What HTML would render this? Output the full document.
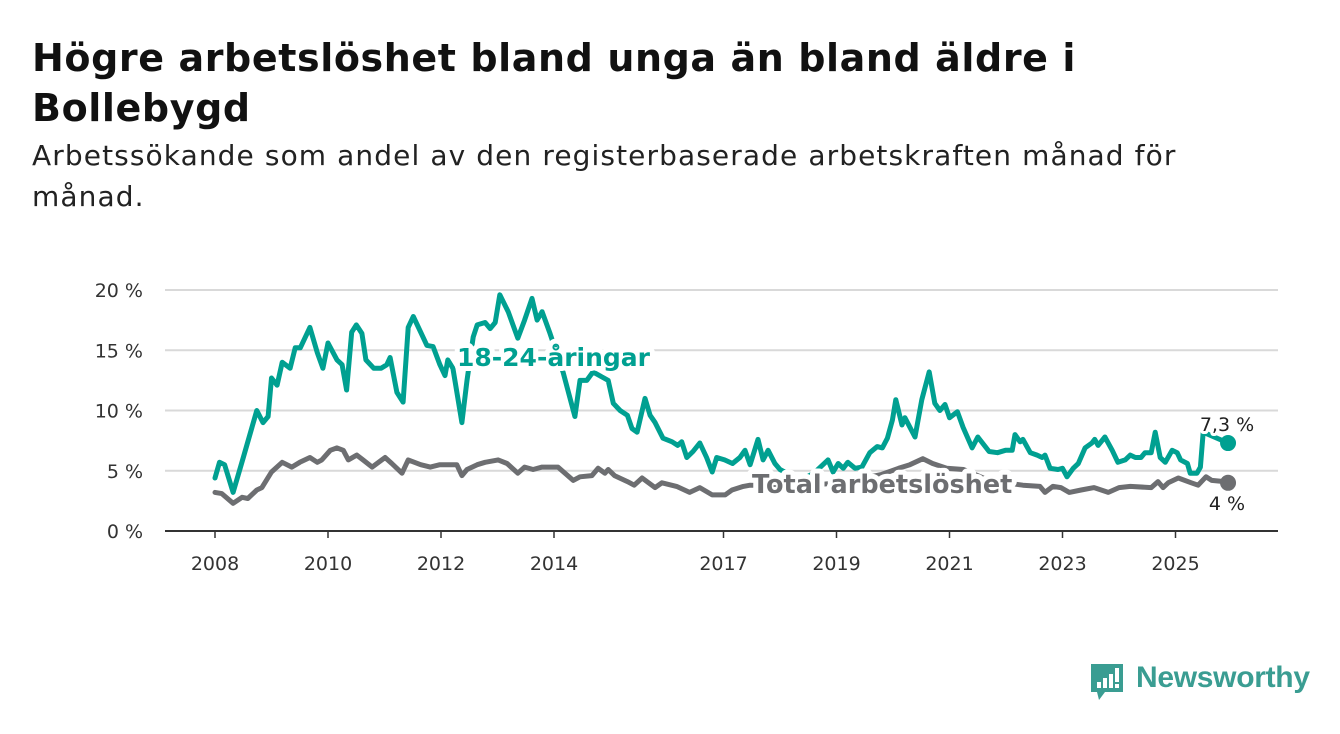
<!DOCTYPE html>
<html><head><meta charset="utf-8">
<style>
body{margin:0;width:1340px;height:734px;background:#fff;font-family:"Liberation Sans","DejaVu Sans",sans-serif;overflow:hidden;position:relative}
h1{position:absolute;left:32px;top:33px;margin:0;font-family:"DejaVu Sans",sans-serif;font-size:38px;line-height:50px;font-weight:bold;color:#111;width:1290px;white-space:nowrap;letter-spacing:0.6px}
.sub{position:absolute;left:32px;top:135px;font-family:"DejaVu Sans",sans-serif;font-size:28px;line-height:41px;color:#222;width:1290px;white-space:nowrap;letter-spacing:1.1px}
svg{position:absolute;left:0;top:0}
</style></head><body>
<h1>Högre arbetslöshet bland unga än bland äldre i<br>Bollebygd</h1>
<div class="sub">Arbetssökande som andel av den registerbaserade arbetskraften månad för<br>månad.</div>
<svg id="chart" width="1340" height="734"></svg>
<script>
const youthDates=[2008.0,2008.08,2008.17,2008.32,2008.5,2008.74,2008.85,2008.94,2009.0,2009.1,2009.19,2009.33,2009.42,2009.51,2009.68,2009.81,2009.91,2010.0,2010.16,2010.25,2010.33,2010.42,2010.5,2010.6,2010.67,2010.81,2010.94,2011.04,2011.1,2011.22,2011.33,2011.42,2011.51,2011.64,2011.75,2011.86,2011.98,2012.07,2012.12,2012.21,2012.37,2012.46,2012.57,2012.64,2012.78,2012.87,2012.96,2013.04,2013.19,2013.36,2013.48,2013.61,2013.7,2013.79,2013.93,2014.16,2014.37,2014.46,2014.58,2014.69,2014.96,2015.05,2015.17,2015.3,2015.38,2015.47,2015.61,2015.7,2015.79,2015.93,2016.09,2016.19,2016.26,2016.35,2016.46,2016.58,2016.7,2016.8,2016.88,2017.02,2017.16,2017.29,2017.38,2017.47,2017.61,2017.7,2017.79,2017.91,2018.0,2018.2,2018.4,2018.6,2018.85,2018.94,2019.03,2019.12,2019.2,2019.33,2019.45,2019.59,2019.72,2019.81,2019.9,2019.99,2020.05,2020.16,2020.21,2020.39,2020.51,2020.64,2020.74,2020.83,2020.92,2021.0,2021.14,2021.24,2021.4,2021.5,2021.7,2021.85,2021.99,2022.11,2022.16,2022.25,2022.3,2022.43,2022.55,2022.64,2022.69,2022.78,2022.92,2023.0,2023.08,2023.19,2023.28,2023.4,2023.52,2023.57,2023.63,2023.75,2023.88,2023.98,2024.11,2024.2,2024.29,2024.39,2024.46,2024.57,2024.64,2024.73,2024.82,2024.94,2025.03,2025.09,2025.21,2025.26,2025.38,2025.44,2025.49,2025.93];
const youthValues=[4.4,5.7,5.5,3.2,6.1,10.0,9.0,9.5,12.7,12.1,14.0,13.5,15.2,15.2,16.9,14.8,13.5,15.6,14.2,13.8,11.7,16.5,17.1,16.4,14.2,13.5,13.5,13.8,14.4,11.5,10.7,16.9,17.8,16.5,15.4,15.3,13.8,12.9,14.2,13.5,9.0,12.5,16.1,17.1,17.3,16.8,17.3,19.6,18.2,16.0,17.5,19.3,17.5,18.2,16.4,13.2,9.5,12.5,12.5,13.2,12.5,10.6,10.0,9.6,8.5,8.2,11.0,9.6,9.0,7.7,7.4,7.1,7.4,6.1,6.6,7.3,6.1,4.9,6.1,5.9,5.6,6.1,6.7,5.5,7.6,5.9,6.7,5.6,5.1,4.6,4.3,4.8,5.9,4.9,5.6,5.2,5.7,5.2,5.3,6.5,7.0,6.9,7.7,9.2,10.9,8.8,9.4,7.8,10.9,13.2,10.6,10.0,10.5,9.4,9.9,8.6,6.9,7.8,6.6,6.5,6.7,6.7,8.0,7.4,7.6,6.5,6.3,6.1,6.3,5.2,5.1,5.2,4.5,5.2,5.6,6.9,7.3,7.6,7.1,7.8,6.7,5.7,5.9,6.3,6.1,6.1,6.5,6.5,8.2,6.1,5.7,6.7,6.5,5.9,5.6,4.8,4.8,5.3,8.2,7.3];
const totalDates=[2008.0,2008.12,2008.32,2008.48,2008.58,2008.74,2008.83,2009.0,2009.19,2009.36,2009.5,2009.68,2009.81,2009.89,2010.04,2010.16,2010.27,2010.36,2010.51,2010.62,2010.78,2011.01,2011.13,2011.31,2011.42,2011.64,2011.81,2011.98,2012.19,2012.28,2012.37,2012.46,2012.64,2012.78,2013.01,2013.17,2013.36,2013.48,2013.63,2013.79,2014.07,2014.34,2014.46,2014.67,2014.78,2014.9,2014.96,2015.07,2015.3,2015.42,2015.56,2015.79,2015.91,2016.17,2016.4,2016.58,2016.8,2017.03,2017.15,2017.35,2017.47,2017.8,2018.2,2018.6,2019.0,2019.4,2019.8,2020.1,2020.3,2020.53,2020.7,2020.95,2021.25,2021.6,2022.0,2022.3,2022.6,2022.69,2022.83,2022.97,2023.12,2023.33,2023.56,2023.81,2024.0,2024.2,2024.57,2024.69,2024.78,2024.87,2025.05,2025.28,2025.4,2025.54,2025.64,2025.87,2025.93];
const totalValues=[3.2,3.1,2.3,2.8,2.7,3.4,3.6,4.9,5.7,5.3,5.7,6.1,5.7,5.9,6.7,6.9,6.7,5.9,6.3,5.9,5.3,6.1,5.6,4.8,5.9,5.5,5.3,5.5,5.5,5.5,4.6,5.1,5.5,5.7,5.9,5.6,4.8,5.3,5.1,5.3,5.3,4.2,4.5,4.6,5.2,4.8,5.1,4.6,4.1,3.8,4.4,3.6,4.0,3.7,3.2,3.6,3.0,3.0,3.4,3.7,3.8,3.8,3.7,3.8,4.0,4.3,4.7,5.2,5.5,6.0,5.6,5.2,5.1,4.4,4.0,3.8,3.7,3.2,3.7,3.6,3.2,3.4,3.6,3.2,3.6,3.7,3.6,4.1,3.6,4.0,4.4,4.0,3.8,4.5,4.2,4.1,4.0];
const yTicks=[0,5,10,15,20];
const yTickLabels=["0 %","5 %","10 %","15 %","20 %"];
const xTicks=[2008,2010,2012,2014,2017,2019,2021,2023,2025];

const NS="http://www.w3.org/2000/svg";
const svg=document.getElementById('chart');
const X=y=>215+(y-2008)*56.5;
const Y=v=>531-v*12.05;
function mk(tag,attrs,parent){const e=document.createElementNS(NS,tag);for(const k in attrs)e.setAttribute(k,attrs[k]);(parent||svg).appendChild(e);return e;}
const TEAL="#00a091",GRAY="#6d6e71";
const FF='"DejaVu Sans",sans-serif';
yTicks.forEach((t,i)=>{
  const g=mk('line',{x1:165,x2:1278,y1:Y(t),y2:Y(t),stroke:t===0?'#333':'#d9d9d9','stroke-width':2});
  
  
  const tx=mk('text',{x:143,y:Y(t)+7,'text-anchor':'end','font-size':19,fill:'#333','font-family':FF});
  tx.textContent=yTickLabels[i];
  
  
});
xTicks.forEach(t=>{
  const tk=mk('line',{x1:X(t),x2:X(t),y1:531,y2:538,stroke:'#333','stroke-width':1.5});
  
  
  const tx=mk('text',{x:X(t),y:570,'text-anchor':'middle','font-size':19,fill:'#333','font-family':FF});
  tx.textContent=t;
  
  
});
function line(d,v,color,name){
  const p=mk('path',{d:d.map((x,i)=>(i?'L':'M')+X(x).toFixed(1)+','+Y(v[i]).toFixed(1)).join(''),fill:'none',stroke:color,'stroke-width':5,'stroke-linejoin':'round','stroke-linecap':'round'});
  
  
  const n=d.length-1;
  const c=mk('circle',{cx:X(d[n]),cy:Y(v[n]),r:8,fill:color});
  
  
}
line(totalDates,totalValues,GRAY,'total-line');
line(youthDates,youthValues,TEAL,'youth-line');
function lab(x,y,txt,color,size,weight,anchor,name){
  const t=mk('text',{x:x,y:y,'font-size':size,'font-weight':weight,fill:color,stroke:'#fff','stroke-width':weight==='bold'?10:6,'stroke-linejoin':'round','paint-order':'stroke','text-anchor':anchor,'font-family':FF});
  t.textContent=txt;
  
  
}
lab(457,366,'18-24-åringar',TEAL,25,'bold','start','youth-series-label');
lab(752,493,'Total arbetslöshet',GRAY,25.5,'bold','start','total-series-label');
const ly=youthValues[youthValues.length-1],lt=totalValues[totalValues.length-1];
lab(1227,Y(ly)-12,'7,3 %','#222',19,'normal','middle','youth-end-value');
lab(1227,Y(lt)+27,'4 %','#222',19,'normal','middle','total-end-value');
</script>
<div style="position:absolute;left:1089px;top:662px;width:230px;height:40px">
<svg width="36" height="44" style="left:0;top:0">
<path d="M2,2 H34 V30 H16 L10,38 L8,30 H2 Z" fill="#3a9d92"/>
<rect x="8" y="20" width="4" height="6" fill="#fff"/><rect x="14" y="16" width="4" height="10" fill="#fff"/><rect x="20" y="12" width="4" height="14" fill="#fff"/><rect x="26" y="6" width="4" height="14" fill="#fff"/><rect x="26" y="22" width="4" height="4" fill="#fff"/>
</svg>
<span style="position:absolute;left:47px;top:-1px;font-size:30px;color:#3a9d92;font-weight:bold;letter-spacing:-0.3px">Newsworthy</span>
</div>
</body></html>
